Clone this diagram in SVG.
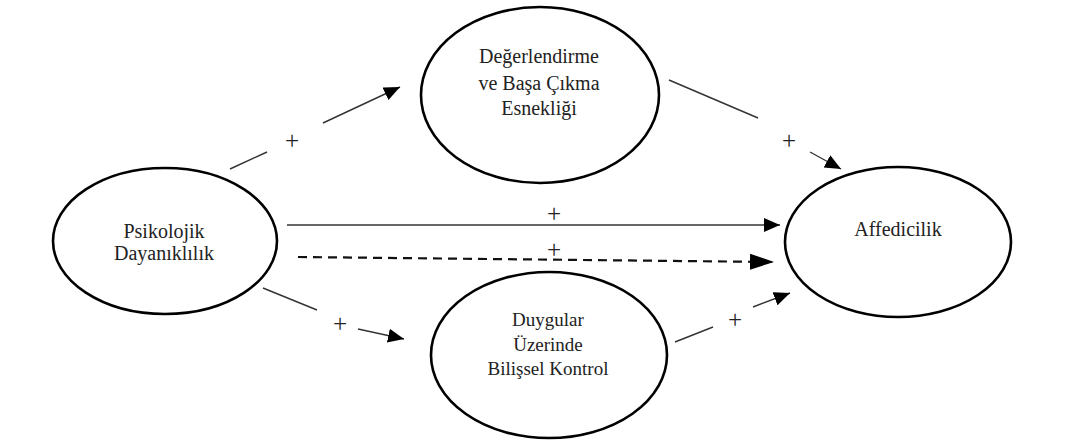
<svg xmlns="http://www.w3.org/2000/svg" width="1079" height="443" viewBox="0 0 1079 443">
<style>
.node ellipse{fill:#fff;stroke:#000;stroke-width:2.6}
.lbl{font-family:"Liberation Serif","Times New Roman",serif;font-size:20px;fill:#222;text-anchor:middle}
.sm{font-size:19px}
.edge{stroke:#333;stroke-width:1.4;fill:none}
.dash{stroke:#111;stroke-width:2.2;stroke-dasharray:9 6;fill:none}
.plus{font-family:"Liberation Serif","Times New Roman",serif;font-size:25px;fill:#222;text-anchor:middle}
</style>
<defs>
<marker id="arr" markerUnits="userSpaceOnUse" markerWidth="18" markerHeight="16" refX="16" refY="7" orient="auto">
<path d="M0,0 L16,7 L0,14 Z" fill="#000"/>
</marker>
<marker id="arrBig" markerUnits="userSpaceOnUse" markerWidth="26" markerHeight="18" refX="24" refY="8" orient="auto">
<path d="M0,0 L24,8 L0,16 Z" fill="#000"/>
</marker>
</defs>
<rect width="1079" height="443" fill="#fff"/>
<g id="connectors">
<line class="edge" x1="230" y1="169" x2="267" y2="152"/>
<line class="edge" x1="323" y1="123" x2="400" y2="87" marker-end="url(#arr)"/>
<text class="plus" x="292" y="149">+</text>
<line class="edge" x1="669" y1="80" x2="758" y2="118"/>
<line class="edge" x1="810" y1="152" x2="841" y2="169" marker-end="url(#arr)"/>
<text class="plus" x="789" y="149">+</text>
<line class="edge" x1="287" y1="225" x2="780" y2="225" marker-end="url(#arr)"/>
<text class="plus" x="554" y="222">+</text>
<line class="dash" x1="298" y1="257" x2="774" y2="262" marker-end="url(#arrBig)"/>
<text class="plus" x="554" y="258">+</text>
<line class="edge" x1="263" y1="288" x2="317" y2="310"/>
<line class="edge" x1="358" y1="329" x2="404" y2="339" marker-end="url(#arr)"/>
<text class="plus" x="340" y="332">+</text>
<line class="edge" x1="675" y1="342" x2="713" y2="327"/>
<line class="edge" x1="753" y1="307" x2="790" y2="293" marker-end="url(#arr)"/>
<text class="plus" x="735" y="328">+</text>
</g>
<g id="node-psikolojik" class="node">
<ellipse cx="165" cy="241" rx="112" ry="73"/>
<text class="lbl" x="164" y="238">Psikolojik</text>
<text class="lbl" x="164" y="260">Dayanıklılık</text>
</g>
<g id="node-degerlendirme" class="node">
<ellipse cx="540" cy="95" rx="119" ry="88"/>
<text class="lbl" x="539" y="63">Değerlendirme</text>
<text class="lbl" x="539" y="90">ve Başa Çıkma</text>
<text class="lbl" x="539" y="115">Esnekliği</text>
</g>
<g id="node-duygular" class="node">
<ellipse cx="549" cy="355" rx="118" ry="83"/>
<text class="lbl sm" x="548" y="326">Duygular</text>
<text class="lbl sm" x="548" y="351">Üzerinde</text>
<text class="lbl sm" x="548" y="375">Bilişsel Kontrol</text>
</g>
<g id="node-affedicilik" class="node">
<ellipse cx="898" cy="242" rx="113" ry="75"/>
<text class="lbl" x="898" y="236">Affedicilik</text>
</g>
</svg>
